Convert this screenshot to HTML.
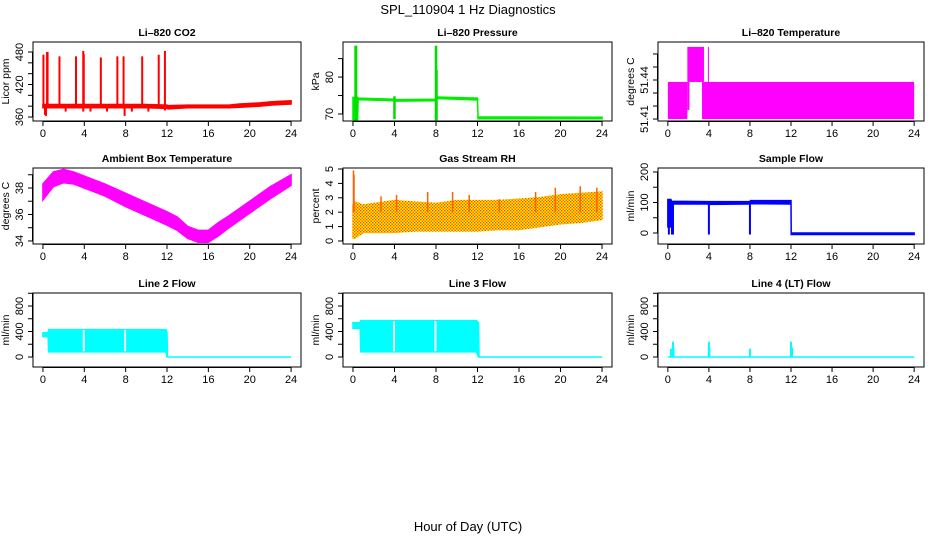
<!DOCTYPE html>
<html><head><meta charset="utf-8">
<style>
html,body{margin:0;padding:0;background:#fff;}
svg{display:block;font-family:"Liberation Sans",Arial,sans-serif;}
.tk{font-size:11px;fill:#000;}
.pt{font-size:10.5px;font-weight:bold;fill:#000;}
.yl{font-size:10.5px;fill:#000;}
</style></head>
<body>
<svg id="chart" width="936" height="540" viewBox="0 0 936 540">
<defs>
<pattern id="rhdots" width="3" height="3" patternUnits="userSpaceOnUse">
<rect width="3" height="3" fill="#ffff00"/><rect x="0" y="0" width="1.4" height="1.4" fill="#ff4000"/><rect x="1.5" y="1.5" width="1.4" height="1.4" fill="#ff4000"/>
</pattern>
</defs>
<text x="468" y="14" text-anchor="middle" font-size="13">SPL_110904  1 Hz Diagnostics</text>
<text x="468" y="531" text-anchor="middle" font-size="13">Hour of Day (UTC)</text>
</svg>
<script>
// ---------- data ----------
const xTicks = [0,4,8,12,16,20,24];
// CO2
const co2BandHours = [0,0.5,2,4,6,8,10,12,12.1,14,16,18,19,20,21,22,23,24];
const co2BandLo    = [377,377,377,377,377,377,377,376,375,377,377,377,378,379,380,382,383,384];
const co2BandHi    = [383,383,383,383,383,383,383,382,381,382,382,382,384,385,386,388,389,390];
const co2SpikeHours = [0.05,0.4,0.45,1.6,3.2,3.9,3.95,5.6,7.2,7.8,9.6,11.2,11.8];
const co2SpikeTops  = [475,480,480,472,472,482,476,470,472,472,472,475,482];
const co2DipHours = [0.2,0.3,2.2,3.9,4.6,6.2,7.9,8.6,10.2,11.8];
const co2DipLows  = [364,362,370,370,370,370,362,370,370,372];
// Pressure
const presBandHours = [0,0.45,0.5,4,4.1,8,8.1,12,12.05,24];
const presBandLo    = [68.5,68.5,73.9,73.6,73.5,73.6,74.2,73.8,68.7,68.7];
const presBandHi    = [74.5,74.5,74.3,74.0,73.9,74.0,74.6,74.3,69.2,69.1];
const presSpikeHours = [0.25,0.3,4,8,8.05];
const presSpikeTops  = [88.5,88.5,74.8,88.5,82];
const presSpikeLows  = [68.3,68.3,68.6,68.3,68.3];
// Li-820 temperature blocks
const tempBlockStart = [0,1.9,1.9,3.33,3.9];
const tempBlockEnd   = [1.9,2.1,3.52,24,4.0];
const tempBlockLo    = [51.41,51.417,51.4385,51.41,51.4385];
const tempBlockHi    = [51.4385,51.4385,51.4654,51.4385,51.4654];
// Ambient box temp
const ambHours = [0,1,2,3,4,6,8,10,12,13,14,15,16,17,18,20,22,24];
const ambLo    = [37.1,38.1,38.4,38.3,38.0,37.4,36.6,35.9,35.2,34.8,34.2,33.9,33.9,34.4,35.0,36.1,37.2,38.2];
const ambHi    = [38.3,39.2,39.4,39.2,38.9,38.3,37.6,36.9,36.2,35.8,35.1,34.8,34.8,35.4,35.9,37.0,38.1,39.0];
// Gas stream RH
const rhHours = [0,0.2,1,2,4,6,8,10,12,14,16,18,20,22,24];
const rhLo    = [0.2,0.2,0.6,0.6,0.6,0.7,0.7,0.7,0.7,0.8,0.8,1.0,1.2,1.3,1.5];
const rhHi    = [2.5,2.7,2.5,2.6,2.8,2.7,2.6,2.8,2.8,2.8,2.9,3.0,3.2,3.3,3.4];
const rhSpikeHours = [0.05,0.1,2.7,4.2,7.2,9.6,11.2,14.1,17.6,19.5,21.9,23.5];
const rhSpikeTops  = [4.9,4.6,3.1,3.2,3.4,3.4,3.2,2.9,3.4,3.7,3.8,3.7];
// Sample flow
const flowBandHours = [0,0.3,0.35,4,4.05,8,8.05,12,12.02,24];
const flowBandLo    = [20,20,95,95,94,95,96,95,-5,-5];
const flowBandHi    = [110,110,104,103,103,103,106,106,0,0];
const flowDipHours = [0.1,0.4,0.5,4,8];
const flowDipLows  = [-5,-5,-5,-5,-5];
// Line 2 flow
const l2BandHours = [0,0.5,0.55,3.9,4.05,7.9,8.05,11.9,12,12.05,24];
const l2BandLo    = [320,320,80,80,80,80,80,80,0,0,0];
const l2BandHi    = [380,380,430,430,430,430,430,430,380,0,0];
const l2GapHours  = [3.95,7.95];
// Line 3 flow
const l3BandHours = [0,0.7,0.75,3.9,4.05,7.9,8.05,11.9,12.1,12.15,24];
const l3BandLo    = [450,450,80,80,80,80,80,80,0,0,0];
const l3BandHi    = [540,540,570,570,570,570,570,570,540,0,0];
const l3GapHours  = [3.95,7.95];
// Line 4 flow
const l4SpikeHours = [0.3,0.5,0.55,4,4.05,8,12,12.1];
const l4SpikeTops  = [130,240,140,240,150,130,240,150];

// ---------- helpers ----------
const NS="http://www.w3.org/2000/svg";
const svg=document.getElementById('chart');
function mk(tag,attrs,parent){const e=document.createElementNS(NS,tag);for(const k in attrs)e.setAttribute(k,attrs[k]);(parent||svg).appendChild(e);return e;}
function makePanel(p){
  const g=mk('g',{});
  
  
  const X=h=>p.L+(h+0.96)/25.92*(p.R-p.L);
  const Y=v=>p.B-(v-p.ylim[0])/(p.ylim[1]-p.ylim[0])*(p.B-p.T);
  p.X=X;p.Y=Y;p.g=g;
  const t=mk('text',{x:(p.L+p.R)/2,y:p.T-6,'text-anchor':'middle',class:'pt'},g);
  t.textContent=p.title;
  
  
  xTicks.forEach(h=>{
    mk('line',{x1:X(h),x2:X(h),y1:p.B,y2:p.B+5,stroke:'#000'},g);
    const tx=mk('text',{x:X(h),y:p.B+16,'text-anchor':'middle',class:'tk'},g);
    tx.textContent=h;
    
    
  });
  mk('line',{x1:X(0),x2:X(24),y1:p.B+0.5,y2:p.B+0.5,stroke:'#000'},g);
  p.yTicks.forEach(v=>{
    mk('line',{x1:p.L-5,x2:p.L,y1:Y(v),y2:Y(v),stroke:'#000'},g);
  });
  mk('line',{x1:p.L-0.5,x2:p.L-0.5,y1:Y(p.yTicks[0]),y2:Y(p.yTicks[p.yTicks.length-1]),stroke:'#000'},g);
  const lx=p.L-10;
  p.yLabels.forEach(v=>{
    const tx=mk('text',{x:lx,y:Y(v),'text-anchor':'middle',class:'tk',transform:`rotate(-90 ${lx} ${Y(v)})`},g);
    tx.textContent=p.fmt?p.fmt(v):v;
    
    
  });
  const tl=p.L-24;
  const yl=mk('text',{x:tl,y:(p.T+p.B)/2,'text-anchor':'middle',class:'yl',transform:`rotate(-90 ${tl} ${(p.T+p.B)/2})`},g);
  yl.textContent=p.ylab;
  
  
  return p;
}
function frame(p){
  const r=mk('rect',{x:p.L,y:p.T,width:p.R-p.L,height:p.B-p.T,fill:'none',stroke:'#000','stroke-width':1},p.g);
  
  
}
function band(p,hours,lo,hi,fill,name){
  let d='';
  hours.forEach((h,i)=>{d+=(i?'L':'M')+p.X(h)+','+p.Y(hi[i]);});
  for(let i=hours.length-1;i>=0;i--)d+='L'+p.X(hours[i])+','+p.Y(lo[i]);
  const e=mk('path',{d:d+'Z',fill:fill,stroke:fill,'stroke-width':1.5},p.g);
  
  
}
function spikes(p,hours,tops,base,color,name,w){
  hours.forEach((h,i)=>{
    const b=Array.isArray(base)?base[i]:base;
    const e=mk('line',{x1:p.X(h),x2:p.X(h),y1:p.Y(b),y2:p.Y(tops[i]),stroke:color,'stroke-width':w||2},p.g);
    
    
  });
}
const cols=[[33,301],[343,612],[658,924]];
const rows=[[42,121],[168,244],[293,367]];
function P(c,r,o){return Object.assign({L:cols[c][0],R:cols[c][1],T:rows[r][0],B:rows[r][1]},o);}

let p=makePanel(P(0,0,{name:'co2',title:'Li\u2013820 CO2',ylab:'Licor ppm',ylim:[352.6,498.5],yTicks:[360,380,400,420,440,460,480],yLabels:[360,420,480]}));
band(p,co2BandHours,co2BandLo,co2BandHi,'#ff0000','co2-band');
spikes(p,co2SpikeHours,co2SpikeTops,380,'#ff0000','co2-spike');
spikes(p,co2DipHours,co2DipLows,378,'#ff0000','co2-dip');
frame(p);
p=makePanel(P(1,0,{name:'pressure',title:'Li\u2013820 Pressure',ylab:'kPa',ylim:[68.1,89.5],yTicks:[70,75,80,85],yLabels:[70,80]}));
band(p,presBandHours,presBandLo,presBandHi,'#00ee00','pressure-band');
spikes(p,presSpikeHours,presSpikeTops,presSpikeLows,'#00dd00','pressure-spike',2.5);
frame(p);
p=makePanel(P(2,0,{name:'li820-temp',title:'Li\u2013820 Temperature',ylab:'degrees C',ylim:[51.4085,51.4692],yTicks:[51.41,51.42,51.43,51.44,51.45,51.46],yLabels:[51.41,51.44],fmt:v=>v.toFixed(2)}));
tempBlockStart.forEach((s,i)=>{
  const e=mk('rect',{x:p.X(s),y:p.Y(tempBlockHi[i]),width:p.X(tempBlockEnd[i])-p.X(s),height:p.Y(tempBlockLo[i])-p.Y(tempBlockHi[i]),fill:'#ff00ff'},p.g);
  
  
});
frame(p);
p=makePanel(P(0,1,{name:'ambient-temp',title:'Ambient Box Temperature',ylab:'degrees C',ylim:[33.77,39.51],yTicks:[34,35,36,37,38,39],yLabels:[34,36,38]}));
band(p,ambHours,ambLo,ambHi,'#ff00ff','ambient-band');
frame(p);
p=makePanel(P(1,1,{name:'rh',title:'Gas Stream RH',ylab:'percent',ylim:[-0.21,5.07],yTicks:[0,1,2,3,4,5],yLabels:[0,1,2,3,4,5]}));
band(p,rhHours,rhLo,rhHi,'url(#rhdots)','rh-band');
spikes(p,rhSpikeHours,rhSpikeTops,2,'#ff6000','rh-spike',1.5);
frame(p);
p=makePanel(P(2,1,{name:'sample-flow',title:'Sample Flow',ylab:'ml/min',ylim:[-36,213],yTicks:[0,50,100,150,200],yLabels:[0,100,200]}));
band(p,flowBandHours,flowBandLo,flowBandHi,'#0000ff','sample-flow-band');
spikes(p,flowDipHours,flowDipLows,100,'#0000ff','sample-flow-dip',2);
frame(p);
p=makePanel(P(0,2,{name:'line2-flow',title:'Line 2 Flow',ylab:'ml/min',ylim:[-157,1004],yTicks:[0,200,400,600,800,1000],yLabels:[0,400,800]}));
band(p,l2BandHours,l2BandLo,l2BandHi,'#00ffff','line2-band');
spikes(p,l2GapHours,[420,420],90,'#ffffff','line2-gap',2);
frame(p);
p=makePanel(P(1,2,{name:'line3-flow',title:'Line 3 Flow',ylab:'ml/min',ylim:[-157,1004],yTicks:[0,200,400,600,800,1000],yLabels:[0,400,800]}));
band(p,l3BandHours,l3BandLo,l3BandHi,'#00ffff','line3-band');
spikes(p,l3GapHours,[560,560],90,'#ffffff','line3-gap',2);
frame(p);
p=makePanel(P(2,2,{name:'line4-flow',title:'Line 4 (LT) Flow',ylab:'ml/min',ylim:[-157,1004],yTicks:[0,200,400,600,800,1000],yLabels:[0,400,800]}));
band(p,[0,24],[0,0],[0,0],'#00ffff','line4-baseline');
spikes(p,l4SpikeHours,l4SpikeTops,0,'#00ffff','line4-spike',2);
frame(p);
</script>
</body></html>
